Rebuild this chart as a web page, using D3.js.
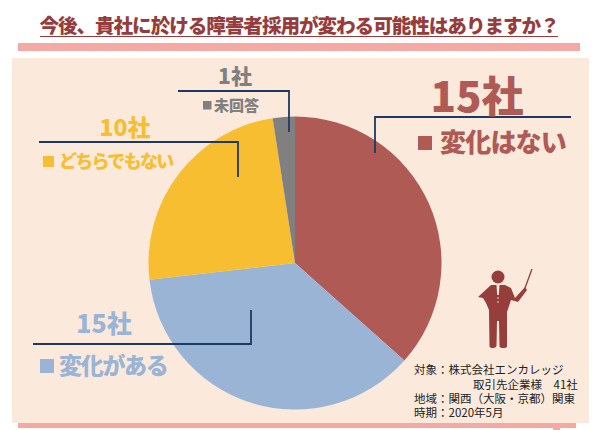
<!DOCTYPE html>
<html>
<head>
<meta charset="utf-8">
<script src="https://cdn.jsdelivr.net/npm/d3@7"></script>
<style>
    html, body { margin: 0; padding: 0; background: #fff; }
    text { font-family: "Noto Sans CJK JP", sans-serif; }
</style>
</head>
<body>
<div id="chart"></div>
<script>
const categories = ["変化はない", "変化がある", "どちらでもない", "未回答"];
const counts = [15, 15, 10, 1];
const colors = ["#B05A56", "#9AB4D6", "#F6BE30", "#808080"];
const title = "今後、貴社に於ける障害者採用が変わる可能性はありますか？";
const noteLines = ["対象：株式会社エンカレッジ", "取引先企業様　41社", "地域：関西（大阪・京都）関東", "時期：2020年5月"];

// label placement for each slice, same order as categories
const labelPos = [
    { cx: 477, numY: 112, numSize: 42, catX: 440, catY: 152, catSize: 26, track: -0.8, sq: [418, 136, 14], line: [[571, 117], [375, 117], [375, 153]] },
    { cx: 104, numY: 333, numSize: 25, catX: 59, catY: 374, catSize: 23, track: -1.3, sq: [40, 359, 14], line: [[33, 344], [251, 344], [251, 310]] },
    { cx: 125, numY: 136, numSize: 23, catX: 59, catY: 168, catSize: 18, track: -1.7, sq: [43, 156, 11], line: [[39, 142], [238, 142], [238, 177]] },
    { cx: 235, numY: 84, numSize: 21, catX: 214, catY: 111, catSize: 15, track: 0, sq: [203, 101, 8.5], line: [[178, 91], [289, 91], [289, 132]] }
];

const width = 600, height = 430;
const center = [295, 263], radius = 146.5;

const svg = d3.select("#chart").append("svg")
    .attr("width", width)
    .attr("height", height)
    .style("display", "block");

// background panel and pink bars
svg.append("rect").attr("x", 12).attr("y", 58).attr("width", 577).attr("height", 365).attr("fill", "#FBE9DC");
svg.append("rect").attr("x", 18).attr("y", 43).attr("width", 562).attr("height", 8).attr("fill", "#F4A9A4");
svg.append("rect").attr("x", 18).attr("y", 423).attr("width", 558).attr("height", 5).attr("fill", "#F4A9A4");
svg.append("rect").attr("x", 553).attr("y", 428).attr("width", 7).attr("height", 2).attr("fill", "#F4A9A4");

svg.append("text")
    .attr("x", 299)
    .attr("y", 33)
    .attr("text-anchor", "middle")
    .attr("font-size", 19.6)
    .attr("letter-spacing", -1.05)
    .attr("font-weight", 900)
    .attr("fill", "#963C3C")
    .text(title);
svg.append("line")
    .attr("x1", 40).attr("x2", 558)
    .attr("y1", 36.5).attr("y2", 36.5)
    .attr("stroke", "#963C3C")
    .attr("stroke-width", 1.2);

// pie
const pie = d3.pie().sort(null);
const arc = d3.arc().innerRadius(0).outerRadius(radius);

svg.append("g")
    .attr("transform", "translate(" + center[0] + "," + center[1] + ")")
    .selectAll("path")
    .data(pie(counts))
    .enter()
    .append("path")
    .attr("d", arc)
    .attr("fill", (d, i) => colors[i]);

// leader lines
const leader = d3.line();
svg.selectAll(".leader")
    .data(labelPos)
    .enter()
    .append("path")
    .attr("class", "leader")
    .attr("d", d => leader(d.line))
    .attr("fill", "none")
    .attr("stroke", "#1C3A60")
    .attr("stroke-width", 1.8);

// labels
categories.forEach((c, i) => {
    let p = labelPos[i];
    svg.append("text")
        .attr("x", p.cx)
        .attr("y", p.numY)
        .attr("text-anchor", "middle")
        .attr("font-size", p.numSize)
        .attr("font-weight", 900)
        .attr("fill", colors[i])
        .text(counts[i] + "社");
    svg.append("rect")
        .attr("x", p.sq[0])
        .attr("y", p.sq[1])
        .attr("width", p.sq[2])
        .attr("height", p.sq[2])
        .attr("fill", colors[i]);
    svg.append("text")
        .attr("x", p.catX)
        .attr("y", p.catY)
        .attr("font-size", p.catSize)
        .attr("letter-spacing", p.track)
        .attr("font-weight", 900)
        .attr("fill", colors[i])
        .text(c);
});

// presenter figure
const fig = svg.append("g").attr("fill", "#963E3B");
fig.append("circle").attr("cx", 498).attr("cy", 277).attr("r", 6.5);
fig.append("path").attr("d", "M491 285 L505 285 L511 288 L515 298 L525 287 L527 290 L518 302 L511 300 L507 312 L507 346 Q507 348 503.5 348 Q499.5 348 499.5 346 L499 321 L497 321 L496.5 346 Q496 348 493 348 Q489.5 348 489.5 346 L489 310 L486 303 L483 298 L478 297 Z");
fig.append("path").attr("d", "M525 288 L532 269").attr("stroke", "#963E3B").attr("stroke-width", 1.3).attr("fill", "none");
fig.append("path").attr("d", "M496.5 285 L499.5 285 L498.8 295 L497.2 295 Z").attr("fill", "#FBE9DC");
fig.append("circle").attr("cx", 498).attr("cy", 298).attr("r", 0.8).attr("fill", "#FBE9DC");
fig.append("circle").attr("cx", 498).attr("cy", 302).attr("r", 0.8).attr("fill", "#FBE9DC");

// notes, one text element with a tspan per line
const noteX = [414, 473, 414, 414];
const noteY = [374, 389, 403, 417];
svg.append("text")
    .attr("font-size", 11.5)
    .attr("fill", "#222")
    .selectAll("tspan")
    .data(noteLines)
    .enter()
    .append("tspan")
    .attr("x", (d, i) => noteX[i])
    .attr("y", (d, i) => noteY[i])
    .text(d => d);
</script>
</body>
</html>
